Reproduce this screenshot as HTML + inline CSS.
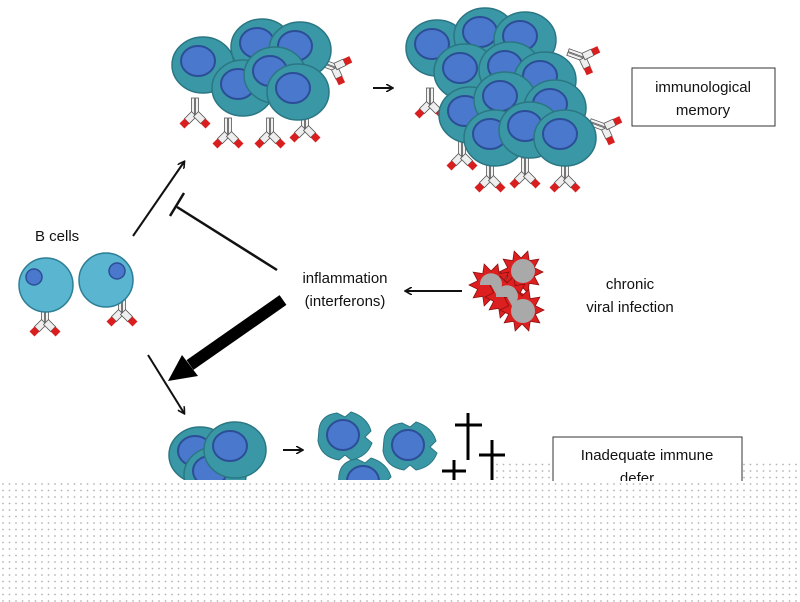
<!DOCTYPE html>
<html><head><meta charset="utf-8"><style>
html,body{margin:0;padding:0;background:#fff}
svg{display:block}
text{font-family:"Liberation Sans",sans-serif;fill:#111}
</style></head><body>
<svg width="800" height="602" viewBox="0 0 800 602" xmlns="http://www.w3.org/2000/svg">
<defs>
<g id="ab">
 <rect x="-3.5" y="0" width="3" height="16" fill="#f2f2f2" stroke="#555" stroke-width="0.8"/>
 <rect x="0.5" y="0" width="3" height="16" fill="#f2f2f2" stroke="#555" stroke-width="0.8"/>
 <g transform="translate(-1,16) rotate(45)"><rect x="-3.5" y="0" width="7" height="10" fill="#eee" stroke="#555" stroke-width="0.8"/><rect x="-3.5" y="10" width="7" height="7" fill="#d81e1e"/></g>
 <g transform="translate(1,16) rotate(-45)"><rect x="-3.5" y="0" width="7" height="10" fill="#eee" stroke="#555" stroke-width="0.8"/><rect x="-3.5" y="10" width="7" height="7" fill="#d81e1e"/></g>
</g>
<g id="cell"><ellipse rx="31" ry="28" fill="#3a98a6" stroke="#2b7683" stroke-width="1.5"/><ellipse cx="-5" cy="-4" rx="17" ry="15" fill="#4a78cc" stroke="#2c4e96" stroke-width="2"/></g>
<g id="dcell"><path d="M-26,-8 Q-24,-22 -8,-24 L0,-20 L6,-25 Q22,-20 26,-6 L20,0 L27,6 Q22,20 6,23 L0,18 L-6,23 Q-24,20 -27,4 Z" fill="#3a98a6" stroke="#2b7683" stroke-width="1"/><ellipse cx="-2" cy="-2" rx="16" ry="15" fill="#4a78cc" stroke="#2c4e96" stroke-width="2"/></g>
<polygon id="star" points="22,0 13.3,4.3 17.8,12.9 8.2,11.3 6.8,20.9 0,14 -6.8,20.9 -8.2,11.3 -17.8,12.9 -13.3,4.3 -22,0 -13.3,-4.3 -17.8,-12.9 -8.2,-11.3 -6.8,-20.9 0,-14 6.8,-20.9 8.2,-11.3 17.8,-12.9 13.3,-4.3" fill="#dd1f1f" stroke="#8a1010" stroke-width="0.8"/>
<marker id="ah" markerWidth="8" markerHeight="8" refX="6" refY="4" orient="auto" markerUnits="userSpaceOnUse"><path d="M0,0 L7,4 L0,8" fill="none" stroke="#111" stroke-width="1.6"/></marker>
<pattern id="dots" width="6.5" height="6.5" patternUnits="userSpaceOnUse"><rect width="6.5" height="6.5" fill="#fff"/><circle cx="3" cy="3" r="0.9" fill="#b5b5b5"/></pattern>
</defs>

<!-- top cluster 1 -->
<use href="#ab" transform="translate(195,98)"/><use href="#ab" transform="translate(228,118)"/><use href="#ab" transform="translate(270,118)"/><use href="#ab" transform="translate(305,112)"/><use href="#ab" transform="translate(320,62) rotate(-70)"/>
<use href="#cell" transform="translate(203,65)"/>
<use href="#cell" transform="translate(262,47)"/>
<use href="#cell" transform="translate(300,50)"/>
<use href="#cell" transform="translate(243,88)"/>
<use href="#cell" transform="translate(275,75)"/>
<use href="#cell" transform="translate(298,92)"/>
<line x1="373" y1="88" x2="392" y2="88" stroke="#111" stroke-width="2" marker-end="url(#ah)"/>
<!-- top cluster 2 -->
<use href="#ab" transform="translate(430,88)"/><use href="#ab" transform="translate(462,140)"/><use href="#ab" transform="translate(490,162)"/><use href="#ab" transform="translate(525,158)"/><use href="#ab" transform="translate(565,162)"/><use href="#ab" transform="translate(568,52) rotate(-70)"/><use href="#ab" transform="translate(590,122) rotate(-70)"/>
<use href="#cell" transform="translate(437,48)"/>
<use href="#cell" transform="translate(485,36)"/>
<use href="#cell" transform="translate(525,40)"/>
<use href="#cell" transform="translate(465,72)"/>
<use href="#cell" transform="translate(510,70)"/>
<use href="#cell" transform="translate(545,80)"/>
<use href="#cell" transform="translate(470,115)"/>
<use href="#cell" transform="translate(505,100)"/>
<use href="#cell" transform="translate(555,108)"/>
<use href="#cell" transform="translate(495,138)"/>
<use href="#cell" transform="translate(530,130)"/>
<use href="#cell" transform="translate(565,138)"/>
<rect x="632" y="68" width="143" height="58" fill="#fff" stroke="#333" stroke-width="1"/>
<text x="703" y="92" font-size="15" text-anchor="middle">immunological</text>
<text x="703" y="115" font-size="15" text-anchor="middle">memory</text>

<!-- B cells -->
<text x="35" y="241" font-size="15">B cells</text>
<use href="#ab" transform="translate(45,306)"/><use href="#ab" transform="translate(122,296)"/>
<circle cx="46" cy="285" r="27" fill="#5ab6d0" stroke="#2e7f96" stroke-width="1.5"/><circle cx="34" cy="277" r="8" fill="#4a78cc" stroke="#2c4e96" stroke-width="1.5"/>
<circle cx="106" cy="280" r="27" fill="#5ab6d0" stroke="#2e7f96" stroke-width="1.5"/><circle cx="117" cy="271" r="8" fill="#4a78cc" stroke="#2c4e96" stroke-width="1.5"/>

<line x1="133" y1="236" x2="184" y2="162" stroke="#111" stroke-width="2" marker-end="url(#ah)"/>
<line x1="277" y1="270" x2="177" y2="207" stroke="#111" stroke-width="2.5"/>
<line x1="184" y1="193" x2="170" y2="216" stroke="#111" stroke-width="2.5"/>
<line x1="283" y1="300" x2="190" y2="365" stroke="#000" stroke-width="12"/>
<polygon points="168,381 182,355 198,376" fill="#000"/>
<line x1="148" y1="355" x2="184" y2="413" stroke="#111" stroke-width="2" marker-end="url(#ah)"/>

<text x="345" y="283" font-size="15" text-anchor="middle">inflammation</text>
<text x="345" y="306" font-size="15" text-anchor="middle">(interferons)</text>
<line x1="462" y1="291" x2="406" y2="291" stroke="#111" stroke-width="2" marker-end="url(#ah)"/>

<use href="#star" transform="translate(521,272)"/>
<use href="#star" transform="translate(491,285)"/>
<use href="#star" transform="translate(507,297)"/>
<use href="#star" transform="translate(522,310)"/>
<circle cx="523" cy="271" r="12" fill="#a9a9a9"/>
<path d="M491,285 m-11,0 a11,11 0 1 1 16,9 L491,285 Z" fill="#a9a9a9"/>
<path d="M507,297 m-11,0 a11,11 0 1 1 16,9 L507,297 Z" fill="#a9a9a9"/>
<circle cx="523" cy="311" r="12" fill="#a9a9a9"/>
<text x="630" y="289" font-size="15" text-anchor="middle">chronic</text>
<text x="630" y="312" font-size="15" text-anchor="middle">viral infection</text>

<use href="#cell" transform="translate(200,455)"/>
<use href="#cell" transform="translate(215,475)"/>
<use href="#cell" transform="translate(235,450)"/>
<line x1="283" y1="450" x2="302" y2="450" stroke="#111" stroke-width="2" marker-end="url(#ah)"/>
<use href="#dcell" transform="translate(345,437)"/>
<use href="#dcell" transform="translate(410,447)"/>
<use href="#dcell" transform="translate(365,483)"/>
<g stroke="#000" stroke-width="3">
<line x1="468" y1="413" x2="468" y2="460"/><line x1="455" y1="425" x2="482" y2="425"/>
<line x1="492" y1="440" x2="492" y2="485"/><line x1="479" y1="455" x2="505" y2="455"/>
<line x1="454" y1="460" x2="454" y2="485"/><line x1="442" y1="471" x2="466" y2="471"/>
</g>
<rect x="0" y="480" width="800" height="122" fill="url(#dots)"/>
<rect x="495" y="463" width="58" height="18" fill="url(#dots)"/>
<rect x="742" y="463" width="58" height="18" fill="url(#dots)"/>
<rect x="553" y="437" width="189" height="60" fill="none" stroke="#333" stroke-width="1"/>
<text x="647" y="460" font-size="15" text-anchor="middle">Inadequate immune</text>
<text x="637" y="483" font-size="15" text-anchor="middle">defer</text>
<rect x="540" y="481" width="220" height="20" fill="url(#dots)"/>
</svg>
</body></html>
